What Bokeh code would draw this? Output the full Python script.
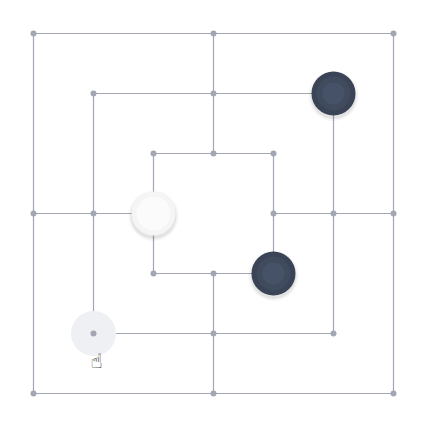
from bokeh.plotting import figure
from bokeh.embed import file_html
from bokeh.resources import INLINE
from bokeh.core.properties import value

# board rings (square half-widths around centre 3,3)
rings = [3, 2, 1]
# cross connectors: (x0, y0, x1, y1) in board units
conn_x0 = [3, 3, 0, 4]
conn_y0 = [0, 4, 3, 3]
conn_x1 = [3, 3, 2, 6]
conn_y1 = [2, 6, 3, 3]

# pieces: column, row (row counted from bottom)
dark_x = [5, 4]
dark_y = [5, 2]
light_x = [2]
light_y = [3]
hover_x = [1]
hover_y = [1]

LINE = "#a3a7b3"

p = figure(width=414, height=414, output_backend="svg", toolbar_location=None,
           x_range=(-33 / 60, -33 / 60 + 414 / 60), y_range=(-21 / 60, 6 + 33 / 60),
           min_border=0)
p.axis.visible = False
p.grid.visible = False
p.outline_line_color = None

px, py = [], []
for r in rings:
    lo, hi = 3 - r, 3 + r
    xs = [lo, hi, hi, lo, lo]
    ys = [lo, lo, hi, hi, lo]
    p.line(xs, ys, line_color=LINE, line_width=1.2)
    for x in (lo, 3, hi):
        for y in (lo, 3, hi):
            if not (x == 3 and y == 3):
                px.append(x)
                py.append(y)
p.segment(conn_x0, conn_y0, conn_x1, conn_y1, line_color=LINE, line_width=1.2)

p.scatter(hover_x, hover_y, size=45, fill_color="#eef0f3", line_color=None)
p.scatter(px, py, size=6, fill_color=LINE, line_color=None)

# shadows
sx = dark_x + light_x
sy = [y - 0.04 for y in dark_y + light_y]
p.scatter(sx, sy, size=50, fill_color="#000000", fill_alpha=0.04, line_color=None)
p.scatter(sx, sy, size=46, fill_color="#000000", fill_alpha=0.07, line_color=None)

p.scatter(dark_x, dark_y, size=44, fill_color="#3a4456", line_color=None)
p.scatter(dark_x, dark_y, size=34, fill_color="#404b5d", line_color=None)
p.scatter(dark_x, dark_y, size=22, fill_color="#465267", line_color=None)
p.scatter(light_x, light_y, size=44, fill_color="#f5f5f6", line_color=None)
p.scatter(light_x, light_y, size=34, fill_color="#fbfbfb", line_color=None)

p.text([1.05], [0.55], text=["\u261d"], text_font=value("DejaVu Sans"),
       text_font_size="20px", text_color="#222222",
       text_align="center", text_baseline="middle")

open("out.html", "w").write(file_html(p, INLINE))
